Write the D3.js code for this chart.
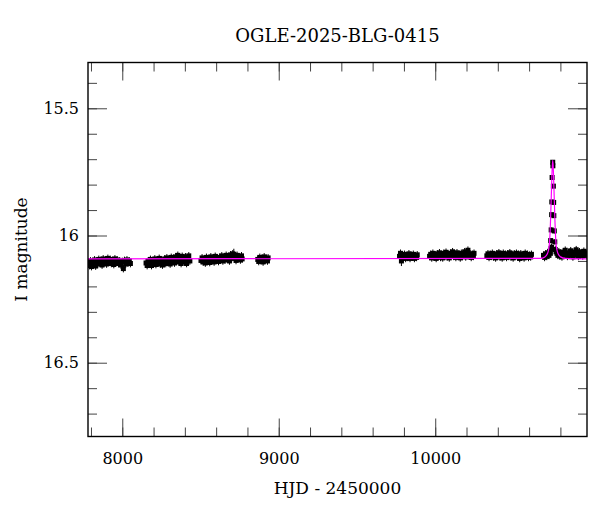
<!DOCTYPE html>
<html>
<head>
<meta charset="utf-8">
<script src="https://cdn.jsdelivr.net/npm/d3@7"></script>
<style>
  body { margin: 0; background: #fff; }
  svg { display: block; font-family: "DejaVu Serif", serif; }
</style>
</head>
<body>
<div id="chart"></div>
<script>
const title = "OGLE-2025-BLG-0415";
const xLabel = "HJD - 2450000";
const yLabel = "I magnitude";

const xMajorTicks = [8000, 9000, 10000];
const yMajorTicks = [15.5, 16, 16.5];

// photometry, [HJD-2450000, I mag, (optional) error]
const errTypical = 0.015;

const season1 = [[7784,16.108],[7790,16.118],[7797,16.1],[7803,16.122],[7810,16.104],[7816,16.114],[7823,16.096],[7830,16.12],[7836,16.102],[7843,16.112],[7850,16.094],[7857,16.108],[7864,16.098],[7871,16.116],[7878,16.092],[7886,16.106],[7893,16.096],[7900,16.112],[7908,16.09],[7915,16.104],[7923,16.094],[7930,16.11],[7938,16.098],[7946,16.114],[7953,16.092],[7961,16.104],[7968,16.096],[7976,16.11],[7984,16.1],[7992,16.116],[8000,16.102],[8007,16.13],[8014,16.098],[8022,16.112],[8030,16.096],[8037,16.108],[8045,16.1],[8052,16.11]];

const season2 = [[8152,16.108],[8159,16.118],[8166,16.1],[8173,16.112],[8180,16.094],[8187,16.118],[8194,16.102],[8201,16.11],[8208,16.092],[8215,16.114],[8222,16.098],[8229,16.108],[8236,16.09],[8243,16.112],[8250,16.096],[8257,16.116],[8264,16.1],[8271,16.092],[8278,16.11],[8285,16.088],[8292,16.104],[8299,16.094],[8306,16.112],[8313,16.086],[8320,16.1],[8327,16.09],[8334,16.108],[8341,16.084],[8348,16.098],[8355,16.078],[8362,16.104],[8369,16.088],[8376,16.11],[8383,16.082],[8390,16.096],[8397,16.104],[8404,16.084],[8411,16.11],[8418,16.092],[8425,16.08],[8432,16.1]];

const season3 = [[8503,16.098],[8510,16.088],[8517,16.104],[8524,16.092],[8531,16.108],[8538,16.086],[8545,16.1],[8552,16.094],[8559,16.106],[8566,16.084],[8573,16.098],[8580,16.09],[8587,16.104],[8594,16.082],[8601,16.096],[8608,16.088],[8615,16.102],[8622,16.086],[8629,16.094],[8636,16.08],[8643,16.1],[8650,16.088],[8657,16.096],[8664,16.078],[8671,16.092],[8678,16.084],[8685,16.1],[8692,16.076],[8699,16.09],[8706,16.072],[8713,16.074,0.022],[8720,16.082],[8727,16.098],[8734,16.078],[8741,16.09],[8748,16.084],[8755,16.096],[8762,16.08],[8766,16.092]];

const season4 = [[8866,16.094],[8872,16.102],[8879,16.086],[8886,16.098],[8893,16.09],[8900,16.104],[8907,16.084],[8914,16.096],[8921,16.09],[8928,16.1],[8932,16.088]];

const season5 = [[9772,16.082],[9778,16.07],[9784,16.1,0.02],[9790,16.078],[9797,16.088],[9804,16.074],[9811,16.09],[9818,16.08],[9825,16.086],[9832,16.072],[9839,16.09],[9846,16.078],[9853,16.084],[9860,16.074],[9867,16.09],[9874,16.08],[9881,16.086],[9885,16.076]];

const season6 = [[9964,16.082],[9971,16.074],[9978,16.088],[9985,16.07],[9992,16.084],[9999,16.076],[10006,16.09],[10013,16.072],[10020,16.082],[10027,16.068],[10034,16.086],[10041,16.076],[10048,16.088],[10055,16.07],[10062,16.08],[10069,16.066],[10076,16.084],[10083,16.074],[10090,16.088],[10097,16.07],[10104,16.078],[10111,16.064],[10118,16.082],[10125,16.072],[10132,16.086],[10139,16.068],[10146,16.08],[10153,16.074],[10160,16.088],[10167,16.07],[10174,16.082],[10181,16.076],[10188,16.064],[10195,16.084],[10202,16.07],[10209,16.058],[10216,16.08],[10223,16.072],[10230,16.086],[10237,16.074],[10244,16.082],[10248,16.07]];

const season7 = [[10330,16.08],[10337,16.072],[10344,16.086],[10351,16.074],[10358,16.082],[10365,16.07],[10372,16.084],[10379,16.076],[10386,16.088],[10393,16.072],[10400,16.08],[10407,16.068],[10414,16.084],[10421,16.076],[10428,16.088],[10435,16.07],[10442,16.08],[10449,16.074],[10456,16.086],[10463,16.072],[10470,16.082],[10477,16.068],[10484,16.084],[10491,16.076],[10498,16.088],[10505,16.072],[10512,16.08],[10519,16.07],[10526,16.084],[10533,16.074],[10540,16.09],[10547,16.072],[10554,16.082],[10561,16.076],[10568,16.088],[10575,16.07],[10582,16.08],[10589,16.074],[10596,16.086],[10603,16.078],[10610,16.084],[10615,16.074]];

const season8 = [[10692,16.078],[10699,16.086],[10706,16.072],[10713,16.082],[10720,16.068],[10727,16.078],[10732,16.062],[10736,16.07],[10740,16.052],[10743,16.046],
  [10751,15.712,0.008],[10752,15.726,0.008],[10747,15.772,0.008],[10755,15.806,0.008],[10745,15.868,0.008],[10757,15.87,0.008],[10744,15.918,0.008],[10758,15.922,0.008],[10741,15.978,0.01],[10761,15.982,0.01],[10738,16.02,0.01],[10764,16.025,0.01],
  [10767,16.055],[10772,16.064],[10778,16.07],[10784,16.078],[10790,16.064],[10796,16.08],[10803,16.07],[10810,16.084],[10817,16.066],[10824,16.076],[10831,16.058],[10838,16.074],[10845,16.082],[10852,16.068],[10859,16.078],[10866,16.06],[10873,16.074],[10880,16.084],[10887,16.066],[10894,16.076],[10901,16.056],[10908,16.072],[10915,16.082],[10922,16.064],[10929,16.076],[10936,16.07],[10943,16.08],[10950,16.062],[10957,16.074],[10963,16.068],[10968,16.078]];

// microlensing model curve
const modelT   = [7781, 10671, 10701, 10715, 10724, 10730, 10734, 10737, 10740, 10743, 10746, 10748, 10751, 10754, 10756, 10759, 10762, 10765, 10768, 10772, 10778, 10787, 10801, 10831, 10970];
const modelMag = [16.092, 16.09, 16.084, 16.074, 16.057, 16.03, 15.99, 15.94, 15.88, 15.82, 15.76, 15.73, 15.705, 15.73, 15.76, 15.82, 15.88, 15.94, 15.99, 16.03, 16.057, 16.074, 16.084, 16.09, 16.092];

const width = 600, height = 512;
const plotLeft = 88, plotRight = 587, plotTop = 62.5, plotBottom = 436.5;

const svg = d3.select("#chart").append("svg")
  .attr("width", width)
  .attr("height", height);

const x = d3.scaleLinear().domain([7781, 10970]).range([plotLeft, plotRight]);
const y = d3.scaleLinear().domain([15.32, 16.79]).range([plotTop, plotBottom]);

const xMinor = d3.range(7800, 11000, 200);
const yMinor = d3.range(154, 168).map(v => v / 10);

function styleTicks(g) {
  g.select(".domain").remove();
  g.selectAll(".tick line").attr("stroke", "#444").attr("stroke-width", 1);
  g.attr("font-family", null);
}

// bottom
svg.append("g").attr("transform", `translate(0,${plotBottom})`)
  .call(d3.axisBottom(x).tickValues(xMinor).tickSize(-9).tickFormat(""))
  .call(styleTicks);
svg.append("g").attr("transform", `translate(0,${plotBottom})`)
  .call(d3.axisBottom(x).tickValues(xMajorTicks).tickSize(-18).tickPadding(16).tickFormat(d3.format("d")))
  .call(styleTicks)
  .call(g => g.selectAll("text").attr("font-size", 16).attr("fill", "#000"));
// top
svg.append("g").attr("transform", `translate(0,${plotTop})`)
  .call(d3.axisTop(x).tickValues(xMinor).tickSize(-9).tickFormat(""))
  .call(styleTicks);
svg.append("g").attr("transform", `translate(0,${plotTop})`)
  .call(d3.axisTop(x).tickValues(xMajorTicks).tickSize(-18).tickFormat(""))
  .call(styleTicks);
// left
svg.append("g").attr("transform", `translate(${plotLeft},0)`)
  .call(d3.axisLeft(y).tickValues(yMinor).tickSize(-9).tickFormat(""))
  .call(styleTicks);
svg.append("g").attr("transform", `translate(${plotLeft},0)`)
  .call(d3.axisLeft(y).tickValues(yMajorTicks).tickSize(-19).tickPadding(9).tickFormat(d => String(d)))
  .call(styleTicks)
  .call(g => g.selectAll("text").attr("font-size", 16).attr("fill", "#000"));
// right
svg.append("g").attr("transform", `translate(${plotRight},0)`)
  .call(d3.axisRight(y).tickValues(yMinor).tickSize(-9).tickFormat(""))
  .call(styleTicks);
svg.append("g").attr("transform", `translate(${plotRight},0)`)
  .call(d3.axisRight(y).tickValues(yMajorTicks).tickSize(-19).tickFormat(""))
  .call(styleTicks);

svg.append("clipPath").attr("id", "plot-clip")
  .append("rect")
  .attr("x", plotLeft).attr("y", plotTop)
  .attr("width", plotRight - plotLeft).attr("height", plotBottom - plotTop);

const plot = svg.append("g").attr("clip-path", "url(#plot-clip)");

const points = [season1, season2, season3, season4, season5, season6, season7, season8].flat();
const err = d => d[2] ?? errTypical;

plot.append("g")
  .selectAll("line")
  .data(points)
  .join("line")
  .attr("x1", d => x(d[0]))
  .attr("x2", d => x(d[0]))
  .attr("y1", d => y(d[1] - err(d)))
  .attr("y2", d => y(d[1] + err(d)))
  .attr("stroke", "#000")
  .attr("stroke-width", 1);

plot.append("g")
  .selectAll("rect")
  .data(points)
  .join("rect")
  .attr("x", d => x(d[0]) - 2.5)
  .attr("y", d => y(d[1]) - 2.5)
  .attr("width", 5)
  .attr("height", 5)
  .attr("fill", "#000");

const model = modelT.map((t, i) => [t, modelMag[i]]);
plot.append("path")
  .datum(model)
  .attr("fill", "none")
  .attr("stroke", "#ff00ff")
  .attr("stroke-width", 1.2)
  .attr("d", d3.line().x(d => x(d[0])).y(d => y(d[1])).curve(d3.curveMonotoneX));

// frame
svg.append("rect")
  .attr("x", plotLeft).attr("y", plotTop)
  .attr("width", plotRight - plotLeft).attr("height", plotBottom - plotTop)
  .attr("fill", "none")
  .attr("stroke", "#000")
  .attr("stroke-width", 1.4);

svg.append("text")
  .attr("x", (plotLeft + plotRight) / 2)
  .attr("y", 42)
  .attr("text-anchor", "middle")
  .attr("font-size", 18)
  .text(title);

svg.append("text")
  .attr("x", (plotLeft + plotRight) / 2)
  .attr("y", 494)
  .attr("text-anchor", "middle")
  .attr("font-size", 17)
  .text(xLabel);

svg.append("text")
  .attr("transform", `translate(26.5,${(plotTop + plotBottom) / 2}) rotate(-90)`)
  .attr("text-anchor", "middle")
  .attr("font-size", 17)
  .text(yLabel);
</script>
</body>
</html>
